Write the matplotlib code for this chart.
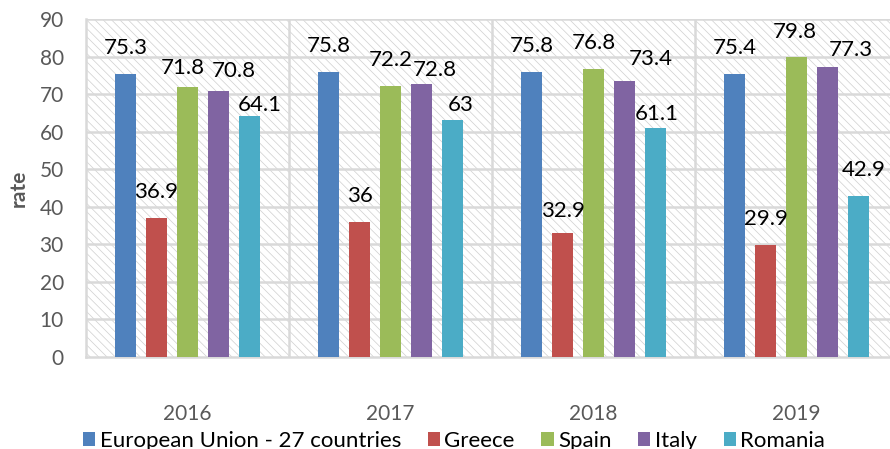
import matplotlib
matplotlib.use("Agg")
import matplotlib.pyplot as plt
import numpy as np
from matplotlib.patches import Rectangle

# data
years = ["2016", "2017", "2018", "2019"]
countries = ["European Union - 27 countries", "Greece", "Spain", "Italy", "Romania"]
eu = [75.3, 75.8, 75.8, 75.4]
greece = [36.9, 36, 32.9, 29.9]
spain = [71.8, 72.2, 76.8, 79.8]
italy = [70.8, 72.8, 73.4, 77.3]
romania = [64.1, 63, 61.1, 42.9]
colors = ["#4F81BD", "#C0504D", "#9BBB59", "#8064A2", "#4BACC6"]

# label nudges in pixels (dx, dy) per series/year, to mimic Excel's collision avoidance
nudges = [
    [(0, 0), (0, 0), (0, 0), (0, 0)],
    [(0, 0), (0, 0), (0, -4), (0, 0)],
    [(-5, -7), (0, 0), (0, 0), (-2, -1)],
    [(15, -6), (13, -12), (26, -4), (23, -9)],
    [(10, -15), (8, -11), (1, -12), (5, 0)],
]

plt.rcParams["font.family"] = ["Lato", "DejaVu Sans"]
plt.rcParams["hatch.linewidth"] = 0.5
plt.rcParams["hatch.color"] = "#cfcfcf"

fig = plt.figure(figsize=(8.9, 4.49), dpi=100)
ax = fig.add_axes([86 / 890, 1 - 357 / 449, 812 / 890, 338 / 449])

# hatched plot background, as in the Excel chart
ax.add_patch(Rectangle((0, 0), 1, 1, transform=ax.transAxes, facecolor="white",
                       edgecolor="#cfcfcf", hatch="\\\\\\\\", lw=0, zorder=0))

x = np.arange(len(years))
step, width = 0.1527, 0.108
series = [eu, greece, spain, italy, romania]
for i, (vals, name, c) in enumerate(zip(series, countries, colors)):
    pos = x + (i - 2) * step
    ax.bar(pos, vals, width, color=c, label=name, zorder=3)
    for px, v, (dx, dy) in zip(pos, vals, nudges[i]):
        ax.annotate(f"{v:g}", (px, v), xytext=(dx, 26 + dy), textcoords="offset pixels",
                    ha="center", va="center", fontsize=16, color="black", zorder=4)

ax.set_xlim(-0.5, 3.5)
ax.set_ylim(0, 90)
ax.set_yticks(range(0, 91, 10))
ax.set_xticks(x, years)
for b in [0.5, 1.5, 2.5]:
    ax.axvline(b, color="#d9d9d9", lw=1.8, zorder=1)
for yv in range(10, 91, 10):
    ax.axhline(yv, color="#d9d9d9", lw=1.8, zorder=1)

for s in ["top", "right"]:
    ax.spines[s].set_visible(False)
ax.spines["left"].set_color("#d9d9d9")
ax.spines["left"].set_linewidth(1.8)
ax.spines["bottom"].set_color("#d9d9d9")
ax.spines["bottom"].set_linewidth(1.8)
ax.tick_params(axis="y", length=0, pad=16, labelsize=15, labelcolor="#595959")
ax.tick_params(axis="x", length=0, pad=34, labelsize=15, labelcolor="#595959")
ax.set_ylabel("rate", fontsize=15, fontweight="bold", color="#595959", labelpad=8)

fig.legend(loc="center", bbox_to_anchor=(454 / 890, 1 - 441 / 449), ncol=5, frameon=False,
           fontsize=16, handlelength=0.55, handleheight=0.55, handletextpad=0.2,
           columnspacing=1.2)

fig.savefig("out.png", dpi=100)
